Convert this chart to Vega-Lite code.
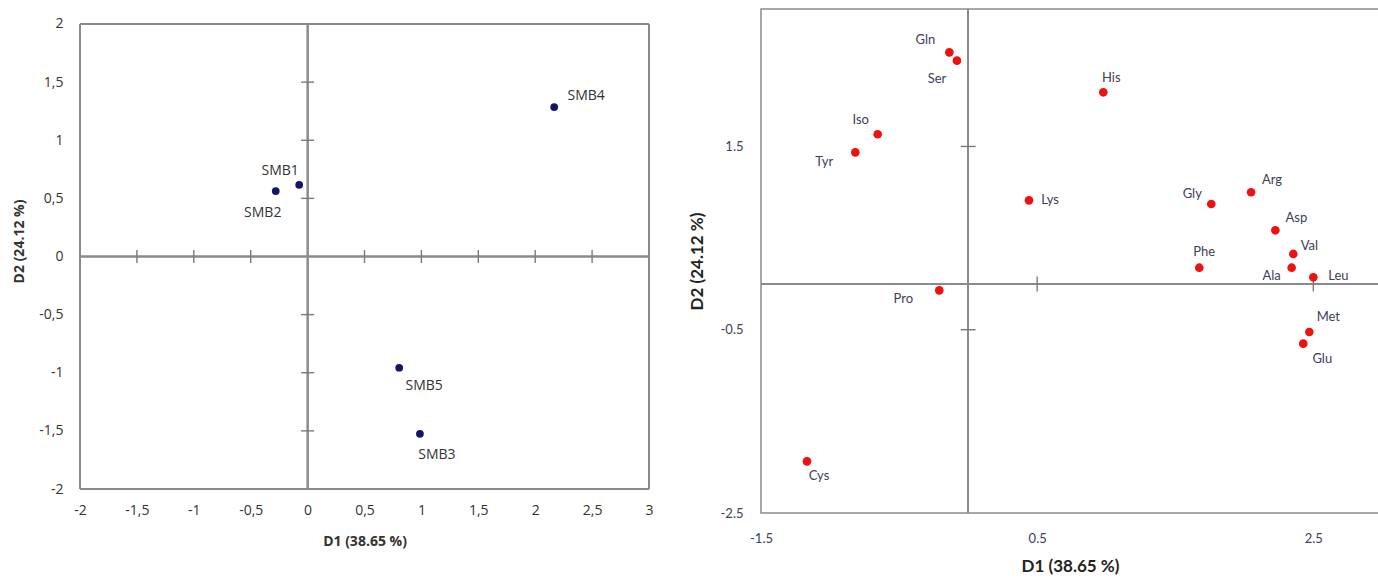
{
  "$schema": "https://vega.github.io/schema/vega-lite/v6.json",
  "background": "white",
  "padding": {"left": 12, "top": 7, "right": 0, "bottom": 0},
  "spacing": 33,
  "datasets": {
    "smb": [
      {"name": "SMB1", "D1": -0.074, "D2": 0.617},
      {"name": "SMB2", "D1": -0.28, "D2": 0.563},
      {"name": "SMB3", "D1": 0.987, "D2": -1.525},
      {"name": "SMB4", "D1": 2.167, "D2": 1.285},
      {"name": "SMB5", "D1": 0.805, "D2": -0.957}
    ],
    "aa": [
      {"name": "Gln", "D1": -0.136, "D2": 2.527},
      {"name": "Ser", "D1": -0.081, "D2": 2.436},
      {"name": "Iso", "D1": -0.655, "D2": 1.633},
      {"name": "Tyr", "D1": -0.817, "D2": 1.436},
      {"name": "Lys", "D1": 0.441, "D2": 0.912},
      {"name": "His", "D1": 0.979, "D2": 2.091},
      {"name": "Arg", "D1": 2.049, "D2": 1.0},
      {"name": "Gly", "D1": 1.761, "D2": 0.872},
      {"name": "Asp", "D1": 2.225, "D2": 0.585},
      {"name": "Val", "D1": 2.355, "D2": 0.327},
      {"name": "Phe", "D1": 1.674, "D2": 0.177},
      {"name": "Ala", "D1": 2.343, "D2": 0.177},
      {"name": "Leu", "D1": 2.5, "D2": 0.072},
      {"name": "Met", "D1": 2.471, "D2": -0.525},
      {"name": "Glu", "D1": 2.427, "D2": -0.652},
      {"name": "Pro", "D1": -0.209, "D2": -0.07},
      {"name": "Cys", "D1": -1.167, "D2": -1.936}
    ],
    "ticksLx": [
      {"D1": -1.5, "D2": 0}, {"D1": -1, "D2": 0}, {"D1": -0.5, "D2": 0}, {"D1": 0.5, "D2": 0},
      {"D1": 1, "D2": 0}, {"D1": 1.5, "D2": 0}, {"D1": 2, "D2": 0}, {"D1": 2.5, "D2": 0}
    ],
    "ticksLy": [
      {"D1": 0, "D2": 1.5}, {"D1": 0, "D2": 1}, {"D1": 0, "D2": 0.5},
      {"D1": 0, "D2": -0.5}, {"D1": 0, "D2": -1}, {"D1": 0, "D2": -1.5}
    ],
    "ticksRx": [{"D1": 0.5, "D2": 0}, {"D1": 2.5, "D2": 0}],
    "ticksRy": [{"D1": 0, "D2": 1.5}, {"D1": 0, "D2": -0.5}]
  },
  "hconcat": [
    {
      "width": 569,
      "height": 480,
      "view": {"stroke": null},
      "data": {"name": "smb"},
      "encoding": {
        "x": {"field": "D1", "type": "quantitative",
          "scale": {"domain": [-2, 3], "nice": false, "zero": false},
          "axis": {"values": [-2, -1.5, -1, -0.5, 0, 0.5, 1, 1.5, 2, 2.5, 3],
            "labelExpr": "replace(toString(datum.value), '.', ',')",
            "domain": false, "ticks": false, "grid": false, "labelFlush": false, "labelOverlap": false,
            "labelPadding": 14, "labelFontSize": 14, "labelColor": "#333333", "labelFont": "Open Sans",
            "title": "D1 (38.65 %)", "titleFont": "Open Sans", "titleFontSize": 14, "titleFontWeight": "bold",
            "titleColor": "#333333", "titlePadding": 17}},
        "y": {"field": "D2", "type": "quantitative",
          "scale": {"domain": [-2, 2.129], "nice": false, "zero": false},
          "axis": {"values": [-2, -1.5, -1, -0.5, 0, 0.5, 1, 1.5, 2],
            "labelExpr": "replace(toString(datum.value), '.', ',')",
            "domain": false, "ticks": false, "grid": false, "labelFlush": false, "labelOverlap": false,
            "labelPadding": 17, "labelFontSize": 14, "labelColor": "#333333", "labelFont": "Open Sans",
            "title": "D2 (24.12 %)", "titleFont": "Open Sans", "titleFontSize": 14, "titleFontWeight": "bold",
            "titleColor": "#333333", "titlePadding": 12, "titleY": 232}}
      },
      "layer": [
        {"mark": {"type": "rule", "color": "#8a8a8a", "strokeWidth": 1.5}, "encoding": {"y": {"datum": 2, "type": "quantitative"}, "x": null}},
        {"mark": {"type": "rule", "color": "#8a8a8a", "strokeWidth": 1.5}, "encoding": {"y": {"datum": -2, "type": "quantitative"}, "x": null}},
        {"mark": {"type": "rule", "color": "#8a8a8a", "strokeWidth": 1.5}, "encoding": {"x": {"datum": -2, "type": "quantitative"}, "y": {"datum": -2, "type": "quantitative"}, "y2": {"datum": 2}}},
        {"mark": {"type": "rule", "color": "#8a8a8a", "strokeWidth": 1.5}, "encoding": {"x": {"datum": 3, "type": "quantitative"}, "y": {"datum": -2, "type": "quantitative"}, "y2": {"datum": 2}}},
        {"mark": {"type": "rule", "color": "#8a8a8a", "strokeWidth": 1.5}, "encoding": {"x": {"datum": 0, "type": "quantitative"}, "y": {"datum": -2, "type": "quantitative"}, "y2": {"datum": 2}}},
        {"mark": {"type": "rule", "color": "#8a8a8a", "strokeWidth": 1.5}, "encoding": {"y": {"datum": 0, "type": "quantitative"}, "x": null}},
        {"data": {"name": "ticksLx"},
          "mark": {"type": "point", "shape": "M0,-1L0,1", "filled": false, "color": "#7a7a7a", "strokeWidth": 1.4, "size": 169, "opacity": 1}},
        {"data": {"name": "ticksLy"},
          "mark": {"type": "point", "shape": "M-1,0L1,0", "filled": false, "color": "#7a7a7a", "strokeWidth": 1.4, "size": 169, "opacity": 1}},
        {"mark": {"type": "circle", "color": "#14146b", "opacity": 1, "size": 60}},
        {"transform": [{"filter": "datum.name == 'SMB1'"}], "mark": {"type": "text", "font": "Open Sans", "fontSize": 14, "color": "#333333", "dx": -19, "dy": -14}, "encoding": {"text": {"field": "name"}}},
        {"transform": [{"filter": "datum.name == 'SMB2'"}], "mark": {"type": "text", "font": "Open Sans", "fontSize": 14, "color": "#333333", "dx": -13, "dy": 22}, "encoding": {"text": {"field": "name"}}},
        {"transform": [{"filter": "datum.name == 'SMB3'"}], "mark": {"type": "text", "font": "Open Sans", "fontSize": 14, "color": "#333333", "dx": 17, "dy": 21}, "encoding": {"text": {"field": "name"}}},
        {"transform": [{"filter": "datum.name == 'SMB4'"}], "mark": {"type": "text", "font": "Open Sans", "fontSize": 14, "color": "#333333", "dx": 32, "dy": -11}, "encoding": {"text": {"field": "name"}}},
        {"transform": [{"filter": "datum.name == 'SMB5'"}], "mark": {"type": "text", "font": "Open Sans", "fontSize": 14, "color": "#333333", "dx": 25, "dy": 18}, "encoding": {"text": {"field": "name"}}}
      ]
    },
    {
      "width": 620,
      "height": 504,
      "data": {"name": "aa"},
      "encoding": {
        "x": {"field": "D1", "type": "quantitative",
          "scale": {"domain": [-1.5, 2.99], "nice": false, "zero": false},
          "axis": {"values": [-1.5, 0.5, 2.5],
            "labelExpr": "toString(datum.value)",
            "domain": false, "ticks": false, "grid": false, "labelFlush": false, "labelOverlap": false,
            "labelPadding": 19, "labelFontSize": 13, "labelColor": "#3c4058", "labelFont": "Lato",
            "title": "D1 (38.65 %)", "titleFont": "Lato", "titleFontSize": 17, "titleFontWeight": "bold",
            "titleColor": "#222222", "titlePadding": 13, "titleX": 309}},
        "y": {"field": "D2", "type": "quantitative",
          "scale": {"domain": [-2.5, 3], "nice": false, "zero": false},
          "axis": {"values": [-2.5, -0.5, 1.5],
            "labelExpr": "toString(datum.value)",
            "domain": false, "ticks": false, "grid": false, "labelFlush": false, "labelOverlap": false,
            "labelPadding": 18, "labelFontSize": 13, "labelColor": "#3c4058", "labelFont": "Lato",
            "title": "D2 (24.12 %)", "titleFont": "Lato", "titleFontSize": 17, "titleFontWeight": "bold",
            "titleColor": "#222222", "titlePadding": 14}}
      },
      "layer": [
        {"mark": {"type": "rule", "color": "#8a8a8a", "strokeWidth": 1.5}, "encoding": {"x": {"datum": 0, "type": "quantitative"}, "y": null}},
        {"mark": {"type": "rule", "color": "#8a8a8a", "strokeWidth": 1.5}, "encoding": {"y": {"datum": 0, "type": "quantitative"}, "x": null}},
        {"data": {"name": "ticksRx"},
          "mark": {"type": "point", "shape": "M0,-1L0,1", "filled": false, "color": "#7a7a7a", "strokeWidth": 1.4, "size": 225, "opacity": 1}},
        {"data": {"name": "ticksRy"},
          "mark": {"type": "point", "shape": "M-1,0L1,0", "filled": false, "color": "#7a7a7a", "strokeWidth": 1.4, "size": 225, "opacity": 1}},
        {"mark": {"type": "circle", "color": "#ee1111", "opacity": 1, "size": 75}},
        {"transform": [{"filter": "datum.name == 'Gln'"}], "mark": {"type": "text", "font": "Lato", "fontSize": 13, "color": "#3c4058", "dx": -24, "dy": -12}, "encoding": {"text": {"field": "name"}}},
        {"transform": [{"filter": "datum.name == 'Ser'"}], "mark": {"type": "text", "font": "Lato", "fontSize": 13, "color": "#3c4058", "dx": -20, "dy": 18}, "encoding": {"text": {"field": "name"}}},
        {"transform": [{"filter": "datum.name == 'Iso'"}], "mark": {"type": "text", "font": "Lato", "fontSize": 13, "color": "#3c4058", "dx": -17, "dy": -14}, "encoding": {"text": {"field": "name"}}},
        {"transform": [{"filter": "datum.name == 'Tyr'"}], "mark": {"type": "text", "font": "Lato", "fontSize": 13, "color": "#3c4058", "dx": -31, "dy": 10}, "encoding": {"text": {"field": "name"}}},
        {"transform": [{"filter": "datum.name == 'Lys'"}], "mark": {"type": "text", "font": "Lato", "fontSize": 13, "color": "#3c4058", "dx": 21, "dy": 0}, "encoding": {"text": {"field": "name"}}},
        {"transform": [{"filter": "datum.name == 'His'"}], "mark": {"type": "text", "font": "Lato", "fontSize": 13, "color": "#3c4058", "dx": 8, "dy": -14}, "encoding": {"text": {"field": "name"}}},
        {"transform": [{"filter": "datum.name == 'Arg'"}], "mark": {"type": "text", "font": "Lato", "fontSize": 13, "color": "#3c4058", "dx": 21, "dy": -12}, "encoding": {"text": {"field": "name"}}},
        {"transform": [{"filter": "datum.name == 'Gly'"}], "mark": {"type": "text", "font": "Lato", "fontSize": 13, "color": "#3c4058", "dx": -19, "dy": -10}, "encoding": {"text": {"field": "name"}}},
        {"transform": [{"filter": "datum.name == 'Asp'"}], "mark": {"type": "text", "font": "Lato", "fontSize": 13, "color": "#3c4058", "dx": 21, "dy": -12}, "encoding": {"text": {"field": "name"}}},
        {"transform": [{"filter": "datum.name == 'Val'"}], "mark": {"type": "text", "font": "Lato", "fontSize": 13, "color": "#3c4058", "dx": 16, "dy": -8}, "encoding": {"text": {"field": "name"}}},
        {"transform": [{"filter": "datum.name == 'Phe'"}], "mark": {"type": "text", "font": "Lato", "fontSize": 13, "color": "#3c4058", "dx": 5, "dy": -16}, "encoding": {"text": {"field": "name"}}},
        {"transform": [{"filter": "datum.name == 'Ala'"}], "mark": {"type": "text", "font": "Lato", "fontSize": 13, "color": "#3c4058", "dx": -20, "dy": 8}, "encoding": {"text": {"field": "name"}}},
        {"transform": [{"filter": "datum.name == 'Leu'"}], "mark": {"type": "text", "font": "Lato", "fontSize": 13, "color": "#3c4058", "dx": 25, "dy": -1}, "encoding": {"text": {"field": "name"}}},
        {"transform": [{"filter": "datum.name == 'Met'"}], "mark": {"type": "text", "font": "Lato", "fontSize": 13, "color": "#3c4058", "dx": 19, "dy": -15}, "encoding": {"text": {"field": "name"}}},
        {"transform": [{"filter": "datum.name == 'Glu'"}], "mark": {"type": "text", "font": "Lato", "fontSize": 13, "color": "#3c4058", "dx": 19, "dy": 15}, "encoding": {"text": {"field": "name"}}},
        {"transform": [{"filter": "datum.name == 'Pro'"}], "mark": {"type": "text", "font": "Lato", "fontSize": 13, "color": "#3c4058", "dx": -36, "dy": 9}, "encoding": {"text": {"field": "name"}}},
        {"transform": [{"filter": "datum.name == 'Cys'"}], "mark": {"type": "text", "font": "Lato", "fontSize": 13, "color": "#3c4058", "dx": 12, "dy": 15}, "encoding": {"text": {"field": "name"}}}
      ]
    }
  ],
  "config": {
    "view": {"stroke": "#8a8a8a", "strokeWidth": 1.5},
    "text": {"align": "center", "baseline": "middle"}
  }
}
